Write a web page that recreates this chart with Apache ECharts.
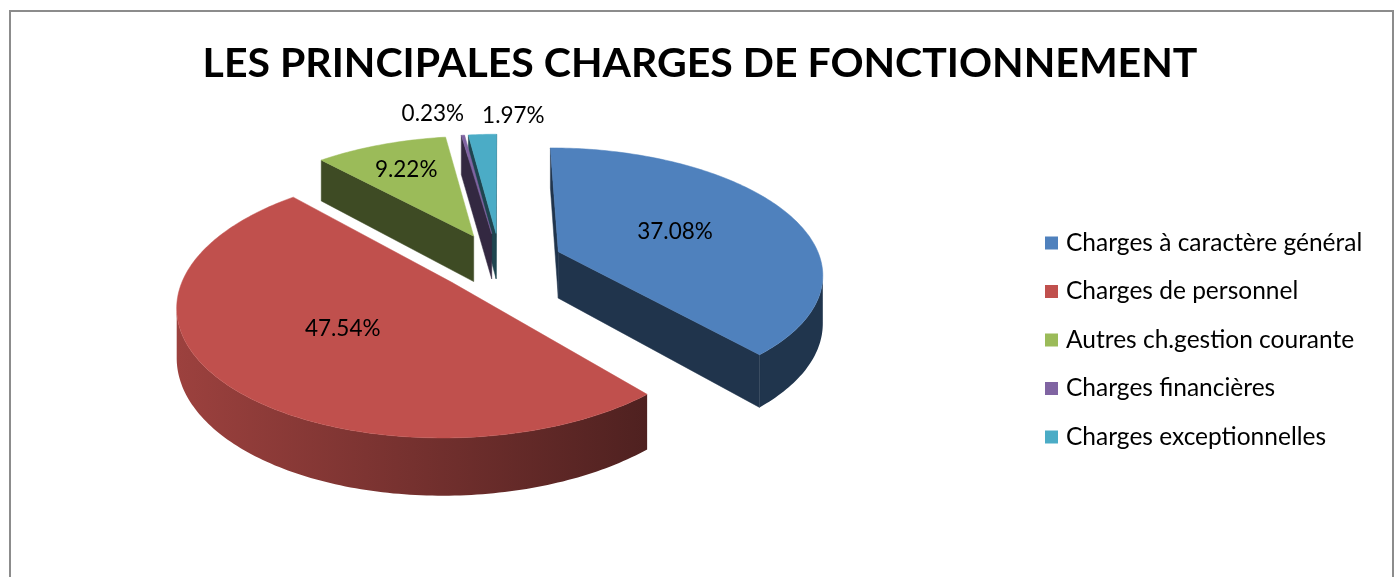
<!DOCTYPE html>
<html>
<head>
<meta charset="utf-8">
<script src="https://cdn.jsdelivr.net/npm/echarts@6/dist/echarts.min.js"></script>
<style>
html,body{margin:0;padding:0;background:#fff;}
#wrap{position:relative;width:1400px;height:577px;overflow:hidden;}
#chart{position:absolute;left:0;top:0;width:1400px;height:577px;}
#frame{position:absolute;left:9px;top:10px;width:1385px;height:640px;border:2px solid #8c8c8c;box-sizing:border-box;pointer-events:none;}
</style>
</head>
<body>
<div id="wrap"><div id="chart"></div><div id="frame"></div></div>
<script>
// ---- data ----
const titleText = 'LES PRINCIPALES CHARGES DE FONCTIONNEMENT';
const categories = ['Charges à caractère général', 'Charges de personnel', 'Autres ch.gestion courante', 'Charges financières', 'Charges exceptionnelles'];
const values = [37.08, 47.54, 9.22, 0.23, 1.97];
const colors = ['#4F81BD', '#C0504D', '#9BBB59', '#8064A2', '#4BACC6'];

// ---- 3D pie layout (styling) ----
const P = { cx: 500, cy: 262, rx: 263, ry: 123.5, depth: 47, persp: 0.16, explode: 0.24 };
const FONT = 'Lato, "Open Sans", sans-serif';

const total = values.reduce((a, b) => a + b, 0);
const starts = [], ends = [];
let acc = 0;
values.forEach(v => { starts.push(acc / total * Math.PI * 2); acc += v; ends.push(acc / total * Math.PI * 2); });

function proj(u, v, h) {
  const s = 1 / (1 + P.persp * v);
  return [P.cx + P.rx * u * s, P.cy - P.ry * v * s + P.depth * h * s];
}
function shade(hex, f) {
  const n = parseInt(hex.slice(1), 16);
  const r = Math.round(((n >> 16) & 255) * f), g = Math.round(((n >> 8) & 255) * f), b = Math.round((n & 255) * f);
  return 'rgb(' + r + ',' + g + ',' + b + ')';
}
function bright(t) {
  let d = (t * 180 / Math.PI) % 360;
  if (d < 90) return 0.41;
  if (d > 270) return 0.85;
  return 0.41 + 0.44 * Math.min(1, Math.max(0, (d - 140) / 130));
}
function area(pts) {
  let s = 0;
  for (let i = 0; i < pts.length; i++) { const a = pts[i], b = pts[(i + 1) % pts.length]; s += a[0] * b[1] - b[0] * a[1]; }
  return s / 2;
}

// label anchors
function labelInfo(i) {
  const frac = values[i] / total;
  const mid = (starts[i] + ends[i]) / 2;
  const outside = frac < 0.03;
  const r = outside ? 1.26 : (frac > 0.2 ? 0.5 : 0.7);
  const ou = P.explode * Math.sin(mid), ov = P.explode * Math.cos(mid);
  const p = proj(ou + r * Math.sin(mid), ov + r * Math.cos(mid), 0);
  return { x: p[0], y: p[1], align: 'center', outside: outside };
}
const LABELS = values.map((v, i) => labelInfo(i));
(function resolve() {
  const outs = LABELS.map((l, i) => i).filter(i => LABELS[i].outside).sort((a, b) => LABELS[a].x - LABELS[b].x);
  if (outs.length === 2) {
    const m = (LABELS[outs[0]].x + LABELS[outs[1]].x) / 2 + 5;
    LABELS[outs[0]].x = m - 9; LABELS[outs[0]].align = 'right';
    LABELS[outs[1]].x = m + 9; LABELS[outs[1]].align = 'left';
    LABELS[outs[1]].y += 3;
  }
})();

function makeRender(i) {
  return function (params, api) {
    const val = api.value(0);
    const a0 = starts[i], a1 = ends[i], mid = (a0 + a1) / 2;
    const ou = P.explode * Math.sin(mid), ov = P.explode * Math.cos(mid);
    const rim = (t, h) => proj(ou + Math.sin(t), ov + Math.cos(t), h);
    const cen = h => proj(ou, ov, h);
    const n = Math.max(2, Math.ceil((a1 - a0) / (Math.PI / 180)));
    const ts = [];
    for (let k = 0; k <= n; k++) ts.push(a0 + (a1 - a0) * k / n);
    const col = colors[i];
    const children = [];
    // outer wall
    let run = [];
    const flush = () => {
      if (!run.length) return;
      const tA = run[0], tB = run[run.length - 1];
      const top = run.map(t => rim(t, 0));
      const bot = run.map(t => rim(t, 1)).reverse();
      const pts = top.concat(bot);
      const pA = top[0], pB = top[top.length - 1];
      let xl = pA[0], xr = pB[0], cl = shade(col, bright(tA)), cr = shade(col, bright(tB));
      if (xl > xr) { [xl, xr] = [xr, xl]; [cl, cr] = [cr, cl]; }
      if (xr - xl < 1) xr = xl + 1;
      children.push({
        type: 'polygon', shape: { points: pts },
        style: { fill: new echarts.graphic.LinearGradient(xl, 0, xr, 0, [{ offset: 0, color: cl }, { offset: 1, color: cr }], true), stroke: null }
      });
      run = [];
    };
    for (let k = 0; k < n; k++) {
      const q = [rim(ts[k], 0), rim(ts[k + 1], 0), rim(ts[k + 1], 1), rim(ts[k], 1)];
      if (area(q) < 0) { if (!run.length) run.push(ts[k]); run.push(ts[k + 1]); }
      else flush();
    }
    flush();
    // radial walls
    const wallS = [cen(0), rim(a0, 0), rim(a0, 1), cen(1)];
    const wallE = [rim(a1, 0), cen(0), cen(1), rim(a1, 1)];
    [wallS, wallE].forEach(w => {
      if (area(w) < 0) children.push({ type: 'polygon', shape: { points: w }, style: { fill: shade(col, 0.4), stroke: shade(col, 0.4), lineWidth: 0.5 } });
    });
    // top face
    const topPts = [cen(0)].concat(ts.map(t => rim(t, 0)));
    children.push({ type: 'polygon', shape: { points: topPts }, style: { fill: col, stroke: col, lineWidth: 0.5 } });
    // label
    const L = LABELS[i];
    children.push({
      type: 'text', x: L.x, y: L.y,
      style: { text: val.toFixed(2) + '%', fill: '#000', font: '22.5px ' + FONT, align: L.align, verticalAlign: 'middle' }
    });
    return { type: 'group', children: children };
  };
}

// draw order: back slices first
const depthV = values.map((v, i) => P.explode * Math.cos((starts[i] + ends[i]) / 2));
const order = values.map((v, i) => i).sort((a, b) => depthV[b] - depthV[a]);

const series = categories.map((name, i) => ({
  type: 'custom',
  name: name,
  coordinateSystem: 'none',
  z: 2 + order.indexOf(i),
  itemStyle: { color: colors[i] },
  data: [[values[i]]],
  renderItem: makeRender(i)
}));

const chart = echarts.init(document.getElementById('chart'), null, { renderer: 'canvas' });
chart.setOption({
  animation: false,
  color: colors,
  title: {
    text: titleText, left: 'center', top: 38,
    textStyle: { fontFamily: FONT, fontWeight: 'bold', fontSize: 41, color: '#000' }
  },
  legend: {
    orient: 'vertical', left: 1045, top: 230, padding: 0,
    itemWidth: 13, itemHeight: 13, itemGap: 22.5, icon: 'rect',
    data: categories,
    selectedMode: false,
    textStyle: { fontFamily: FONT, fontSize: 24.5, lineHeight: 26, color: '#000', padding: [0, 0, 0, 3] }
  },
  series: series
});
</script>
</body>
</html>
